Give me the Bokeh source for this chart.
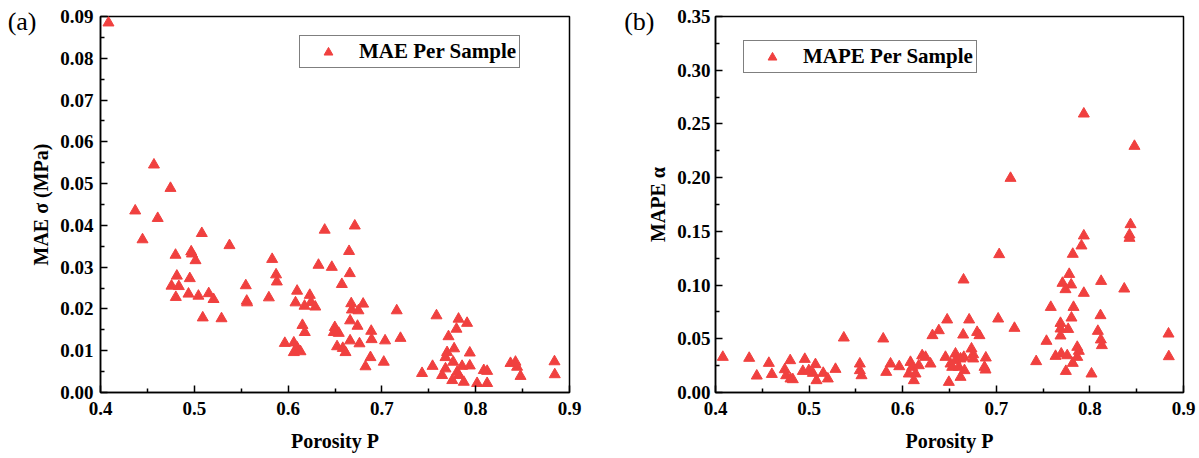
from bokeh.plotting import figure
from bokeh.models import (Range1d, FixedTicker, PrintfTickFormatter, LinearAxis,
                          CustomJSTickFormatter)
from bokeh.layouts import row
from bokeh.embed import file_html
from bokeh.resources import INLINE

# ---------------- data ----------------
porosity_a = [0.4085, 0.457, 0.4746, 0.437, 0.461, 0.4448, 0.508, 0.5375, 0.480, 0.4967,
              0.4975, 0.5013, 0.4814, 0.4952, 0.4757, 0.4835, 0.4803, 0.4938, 0.5044, 0.5154,
              0.5205, 0.509, 0.529, 0.5549, 0.5559, 0.5563, 0.5795, 0.583, 0.5872, 0.588,
              0.6096, 0.6079, 0.6231, 0.6245, 0.6175, 0.629, 0.639, 0.6324, 0.6466, 0.6153,
              0.6178, 0.5965, 0.6061, 0.6097, 0.6061, 0.6132, 0.6498, 0.6487, 0.6540, 0.6522,
              0.6583, 0.6612, 0.6711, 0.665, 0.6658, 0.6573, 0.6673, 0.680, 0.6680, 0.675,
              0.7158, 0.6661, 0.674, 0.6886, 0.689, 0.7034, 0.7198, 0.6661, 0.6761, 0.6878,
              0.6825, 0.702, 0.7582, 0.7817, 0.7908, 0.7795, 0.771, 0.777, 0.7695, 0.7678,
              0.7937, 0.776, 0.7855, 0.7937, 0.754, 0.7428, 0.7678, 0.7642, 0.7802, 0.782,
              0.775, 0.7873, 0.8015, 0.8122, 0.8086, 0.8122, 0.8371, 0.8424, 0.8441, 0.8478,
              0.884, 0.8843]
mae = [0.0885, 0.0545, 0.0489, 0.0435, 0.0417, 0.0366, 0.0381, 0.0352, 0.0329, 0.0337,
       0.0332, 0.0316, 0.0279, 0.0273, 0.0255, 0.0254, 0.0228, 0.0236, 0.0231, 0.0237,
       0.0223, 0.0179, 0.0177, 0.0256, 0.0219, 0.0215, 0.0227, 0.0319, 0.0282, 0.0265,
       0.0243, 0.0215, 0.0233, 0.0216, 0.0207, 0.0205, 0.0389, 0.0305, 0.0300, 0.0161,
       0.0144, 0.0118, 0.0119, 0.0107, 0.0096, 0.0098, 0.0156, 0.0144, 0.0142, 0.0110,
       0.0106, 0.0096, 0.0399, 0.0338, 0.0285, 0.0259, 0.0213, 0.0212, 0.0198, 0.0196,
       0.0196, 0.0172, 0.0159, 0.0147, 0.0127, 0.0124, 0.0130, 0.0124, 0.0117, 0.0084,
       0.0062, 0.0073, 0.0184, 0.0176, 0.0166, 0.0152, 0.0134, 0.0105, 0.0096, 0.0084,
       0.0095, 0.0073, 0.0063, 0.0064, 0.0063, 0.0046, 0.0057, 0.0041, 0.0049, 0.0041,
       0.0029, 0.0025, 0.0022, 0.0022, 0.0053, 0.0051, 0.0070, 0.0073, 0.0061, 0.0039,
       0.0074, 0.0043]

porosity_b = [0.4078, 0.436, 0.4441, 0.457, 0.4602, 0.4798, 0.474, 0.4755, 0.4801, 0.4826,
              0.4954, 0.4933, 0.4997, 0.5068, 0.504, 0.5079, 0.5151, 0.52, 0.5282, 0.5371,
              0.5542, 0.5542, 0.556, 0.5792, 0.587, 0.5824, 0.5963, 0.6083, 0.6101, 0.6065,
              0.6137, 0.6119, 0.6172, 0.6208, 0.6244, 0.6297, 0.6318, 0.6386, 0.6475, 0.6457,
              0.6511, 0.6564, 0.6564, 0.6618, 0.6653, 0.6529, 0.66, 0.666, 0.6618, 0.6493,
              0.665, 0.671, 0.6646, 0.6795, 0.682, 0.6735, 0.6753, 0.6753, 0.6888, 0.6874,
              0.6885, 0.702, 0.7031, 0.7152, 0.7194, 0.7426, 0.7536, 0.7582, 0.7633, 0.7694,
              0.7758, 0.7865, 0.7882, 0.7865, 0.7817, 0.7743, 0.7686, 0.7686, 0.7768, 0.7686,
              0.7707, 0.78, 0.7739, 0.7779, 0.7817, 0.791, 0.7935, 0.7935, 0.7935, 0.7825,
              0.7803, 0.8017, 0.8113, 0.8085, 0.8117, 0.8128, 0.812, 0.8367, 0.8423, 0.8423,
              0.8434, 0.8476, 0.884, 0.8843]
mape = [0.0329, 0.0320, 0.0155, 0.0273, 0.0170, 0.0298, 0.0214, 0.0158, 0.0128, 0.0121,
        0.0310, 0.0198, 0.0205, 0.0261, 0.0180, 0.0112, 0.0180, 0.0128, 0.0217, 0.0509,
        0.0267, 0.0205, 0.0158, 0.0500, 0.0267, 0.0189, 0.0242, 0.0282, 0.0236, 0.0174,
        0.0174, 0.0112, 0.0251, 0.0344, 0.0329, 0.0267, 0.0531, 0.0577, 0.0677, 0.0329,
        0.0267, 0.0360, 0.0298, 0.0314, 0.0329, 0.0236, 0.0236, 0.0205, 0.0143, 0.0096,
        0.1049, 0.0677, 0.0537, 0.0561, 0.0531, 0.0407, 0.0354, 0.0314, 0.0323, 0.0236,
        0.0211, 0.0686, 0.1285, 0.1995, 0.0599, 0.0289, 0.0478, 0.0794, 0.0338, 0.0360,
        0.0344, 0.0422, 0.0385, 0.0329, 0.0273, 0.0198, 0.0645, 0.0593, 0.0589, 0.0528,
        0.1018, 0.1003, 0.0959, 0.1101, 0.1288, 0.1366, 0.1459, 0.2594, 0.0925, 0.0794,
        0.0695, 0.0174, 0.0717, 0.0571, 0.0491, 0.0438, 0.1036, 0.0965, 0.1468, 0.1437,
        0.1564, 0.2293, 0.0546, 0.0335]

x_ticks = [0.4, 0.5, 0.6, 0.7, 0.8, 0.9]
x_minor = [0.45, 0.55, 0.65, 0.75, 0.85]
ya_ticks = [0.00, 0.01, 0.02, 0.03, 0.04, 0.05, 0.06, 0.07, 0.08, 0.09]
ya_minor = [0.005, 0.015, 0.025, 0.035, 0.045, 0.055, 0.065, 0.075, 0.085]
yb_ticks = [0.00, 0.05, 0.10, 0.15, 0.20, 0.25, 0.30, 0.35]
yb_minor = [0.025, 0.075, 0.125, 0.175, 0.225, 0.275, 0.325]

RED = "#F0403F"
FONT = "Liberation Serif"
FH = 376


def make_fig(xs, ys, y_end, yt, ym, ylabel, legend, fw, mbl, mbr, tag, tag_standoff, loc, ystand):
    p = figure(frame_width=fw, frame_height=FH,
               x_range=Range1d(0.4, 0.9), y_range=Range1d(0, y_end),
               output_backend="svg", toolbar_location=None,
               min_border_left=mbl, min_border_right=mbr,
               min_border_top=16, min_border_bottom=64)
    p.background_fill_color = "white"
    p.border_fill_color = "white"
    p.outline_line_color = "black"
    p.outline_line_width = 1.5
    p.xgrid.visible = False
    p.ygrid.visible = False

    p.scatter(xs, ys, marker="triangle", size=11, fill_color=RED, line_color=RED,
              legend_label=legend)

    p.xaxis.ticker = FixedTicker(ticks=x_ticks, minor_ticks=x_minor)
    p.xaxis.formatter = PrintfTickFormatter(format="%.1f")
    p.yaxis.ticker = FixedTicker(ticks=yt, minor_ticks=ym)
    p.yaxis.formatter = PrintfTickFormatter(format="%.2f")
    for ax in (p.xaxis, p.yaxis):
        ax.axis_line_color = "black"
        ax.axis_line_width = 1.5
        ax.major_tick_in = 7
        ax.major_tick_out = 0
        ax.minor_tick_in = 4
        ax.minor_tick_out = 0
        ax.major_tick_line_width = 1.5
        ax.minor_tick_line_width = 1.5
        ax.major_tick_line_color = "black"
        ax.minor_tick_line_color = "black"
        ax.major_label_text_font = FONT
        ax.major_label_text_font_style = "bold"
        ax.major_label_text_font_size = "19px"
        ax.major_label_text_color = "black"
        ax.axis_label_text_font = FONT
        ax.axis_label_text_font_style = "bold"
        ax.axis_label_text_font_size = "20px"
        ax.axis_label_text_color = "black"
    p.xaxis.major_label_standoff = 9
    p.yaxis.major_label_standoff = ystand
    p.xaxis.axis_label = "Porosity P"
    p.xaxis.axis_label_standoff = 12
    p.yaxis.axis_label = ylabel
    p.yaxis.axis_label_standoff = 5

    # panel tag "(a)" / "(b)" as the single label of an outer, invisible left axis
    tag_axis = LinearAxis(ticker=FixedTicker(ticks=[y_end * (1 - 5.0 / FH)]),
                          formatter=CustomJSTickFormatter(code="return '%s';" % tag),
                          axis_line_color=None, major_tick_line_color=None,
                          minor_tick_line_color=None,
                          major_tick_in=0, major_tick_out=0,
                          major_label_standoff=tag_standoff,
                          major_label_text_font=FONT,
                          major_label_text_font_style="normal",
                          major_label_text_font_size="26px",
                          major_label_text_color="black")
    p.add_layout(tag_axis, "left")

    lg = p.legend[0]
    lg.location = loc
    lg.label_text_font = FONT
    lg.label_text_font_style = "bold"
    lg.label_text_font_size = "21px"
    lg.label_text_color = "black"
    lg.border_line_color = "black"
    lg.border_line_width = 1
    lg.background_fill_color = "white"
    lg.background_fill_alpha = 1
    lg.padding = 3
    lg.margin = 0
    lg.spacing = 0
    lg.glyph_width = 50
    lg.glyph_height = 22
    lg.label_height = 22
    lg.label_standoff = 6
    return p


p1 = make_fig(porosity_a, mae, 0.09, ya_ticks, ya_minor, "MAE σ (MPa)", "MAE Per Sample",
              469, 100, 31, "(a)", -9, (199, 324), 7)
p2 = make_fig(porosity_b, mape, 0.35, yb_ticks, yb_minor, "MAPE α", "MAPE Per Sample",
              468, 115, 14, "(b)", -10, (28, 319), 5)

layout = row(p1, p2)
open("out.html", "w").write(file_html(layout, INLINE))
